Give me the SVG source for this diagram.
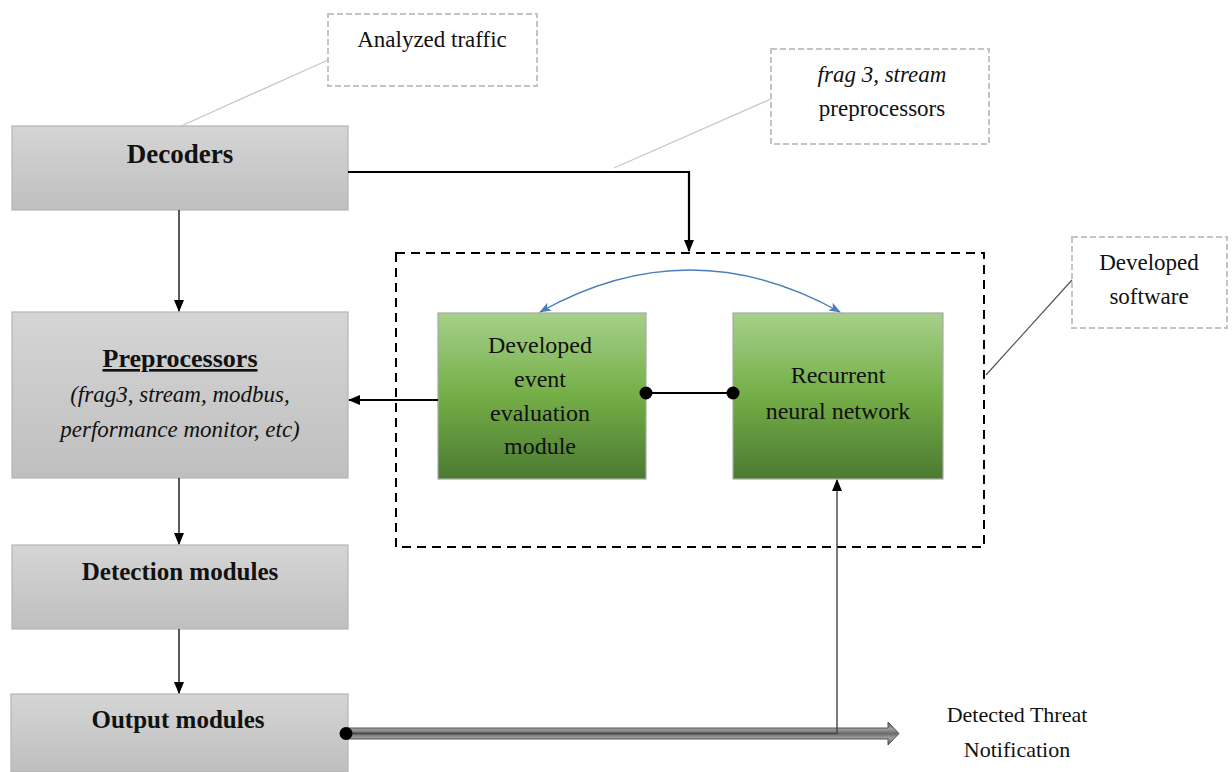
<svg xmlns="http://www.w3.org/2000/svg" width="1232" height="772" viewBox="0 0 1232 772">
<style>
text{font-family:"Liberation Serif","Times New Roman",serif;fill:#111;text-anchor:middle}
.gray{fill:url(#gGray);stroke:#b5b5b5;stroke-width:1.2}
.green{fill:url(#gGreen);stroke:#a8a8a8;stroke-width:1.2}
.note{fill:#fff;stroke:#c4c4c4;stroke-width:2;stroke-dasharray:6 3}
.b{font-weight:bold}
.i{font-style:italic}
.lead{stroke:#c8c8c8;stroke-width:1.3;fill:none}
.thin{stroke:#000;stroke-width:1.3;fill:none}
.thick{stroke:#000;stroke-width:2.2;fill:none}
</style>
<defs>
<linearGradient id="gGray" x1="0" y1="0" x2="0" y2="1"><stop offset="0" stop-color="#d5d5d5"/><stop offset="1" stop-color="#bfbfbf"/></linearGradient>
<linearGradient id="gGreen" x1="0" y1="0" x2="0" y2="1"><stop offset="0" stop-color="#a6d08b"/><stop offset="0.5" stop-color="#74ae46"/><stop offset="1" stop-color="#4b7a32"/></linearGradient>
<linearGradient id="gShaft" x1="0" y1="0" x2="0" y2="1"><stop offset="0" stop-color="#5a5a5a"/><stop offset="0.3" stop-color="#a0a0a0"/><stop offset="0.5" stop-color="#6a6a6a"/><stop offset="0.7" stop-color="#a0a0a0"/><stop offset="1" stop-color="#5a5a5a"/></linearGradient>
<marker id="ah" markerWidth="12" markerHeight="12" viewBox="0 0 12 12" refX="11" refY="6" orient="auto" markerUnits="userSpaceOnUse"><path d="M0,1 L12,6 L0,11 Z" fill="#000"/></marker>
<marker id="ahb" markerWidth="12" markerHeight="12" viewBox="0 0 12 12" refX="11" refY="6" orient="auto-start-reverse" markerUnits="userSpaceOnUse"><path d="M0,1.5 L12,6 L0,10.5 L3,6 Z" fill="#4a7ebb"/></marker>
</defs>

<rect x="396" y="253" width="588" height="294" fill="none" stroke="#000" stroke-width="2" stroke-dasharray="9 6"/>

<g id="analyzed-traffic">
<rect class="note" x="328" y="14" width="209" height="72"/>
<text x="432" y="47" font-size="23">Analyzed traffic</text>
</g>
<g id="frag-note">
<rect class="note" x="771" y="49" width="218" height="95"/>
<text x="882" y="82" font-size="23" class="i">frag 3, stream</text>
<text x="882" y="116" font-size="23">preprocessors</text>
</g>
<g id="developed-software">
<rect class="note" x="1072" y="237" width="155" height="91"/>
<text x="1149" y="270" font-size="23">Developed</text>
<text x="1149" y="304" font-size="23">software</text>
</g>

<g id="decoders">
<rect class="gray" x="12" y="126" width="336" height="84"/>
<text x="180" y="163" font-size="27" class="b">Decoders</text>
</g>
<g id="preprocessors">
<rect class="gray" x="12" y="312" width="336" height="166"/>
<text x="180" y="367" font-size="26" class="b" text-decoration="underline">Preprocessors</text>
<text x="180" y="402" font-size="23" class="i">(frag3, stream, modbus,</text>
<text x="180" y="437" font-size="23" class="i">performance monitor, etc)</text>
</g>
<g id="detection">
<rect class="gray" x="12" y="545" width="336" height="84"/>
<text x="180" y="580" font-size="25" class="b">Detection modules</text>
</g>
<g id="output">
<rect class="gray" x="11" y="694" width="337" height="78"/>
<text x="178" y="728" font-size="25" class="b">Output modules</text>
</g>
<g id="event-module">
<rect class="green" x="438" y="313" width="208" height="166"/>
<text x="540" y="353" font-size="24">Developed</text>
<text x="540" y="387" font-size="24">event</text>
<text x="540" y="421" font-size="24">evaluation</text>
<text x="540" y="454" font-size="24">module</text>
</g>
<g id="rnn">
<rect class="green" x="733" y="313" width="210" height="166"/>
<text x="838" y="383" font-size="24">Recurrent</text>
<text x="838" y="419" font-size="24">neural network</text>
</g>
<g id="threat">
<text x="1017" y="722" font-size="22">Detected Threat</text>
<text x="1017" y="757" font-size="22">Notification</text>
</g>

<g id="connectors">
<path class="lead" d="M328,60 L181,126"/>
<path class="lead" d="M771,99 L614,168"/>
<path d="M1072,280 L986,375" stroke="#555" stroke-width="1.2" fill="none"/>
<path class="thin" d="M179,210 V311" marker-end="url(#ah)"/>
<path class="thin" d="M179,478 V544" marker-end="url(#ah)"/>
<path class="thin" d="M179,629 V693" marker-end="url(#ah)"/>
<path class="thick" d="M348,172 H689 V251" marker-end="url(#ah)"/>
<path class="thick" d="M438,400 H349" marker-end="url(#ah)"/>
<path d="M540,312 Q690,228 840,312" stroke="#4a7ebb" stroke-width="1.4" fill="none" marker-start="url(#ahb)" marker-end="url(#ahb)"/>
<path class="thick" d="M646,393 H733"/>
<circle cx="646" cy="393" r="6.5" fill="#000"/>
<circle cx="733" cy="393" r="6.5" fill="#000"/>
<polygon points="348,728 888,728 888,722 899,733.5 888,745 888,739 348,739" fill="url(#gShaft)" stroke="#555" stroke-width="1"/>
<path d="M346,733.5 H837 V480" stroke="#444" stroke-width="1.4" fill="none" marker-end="url(#ah)"/>
<circle cx="346" cy="733.5" r="6.5" fill="#000"/>
</g>
</svg>
